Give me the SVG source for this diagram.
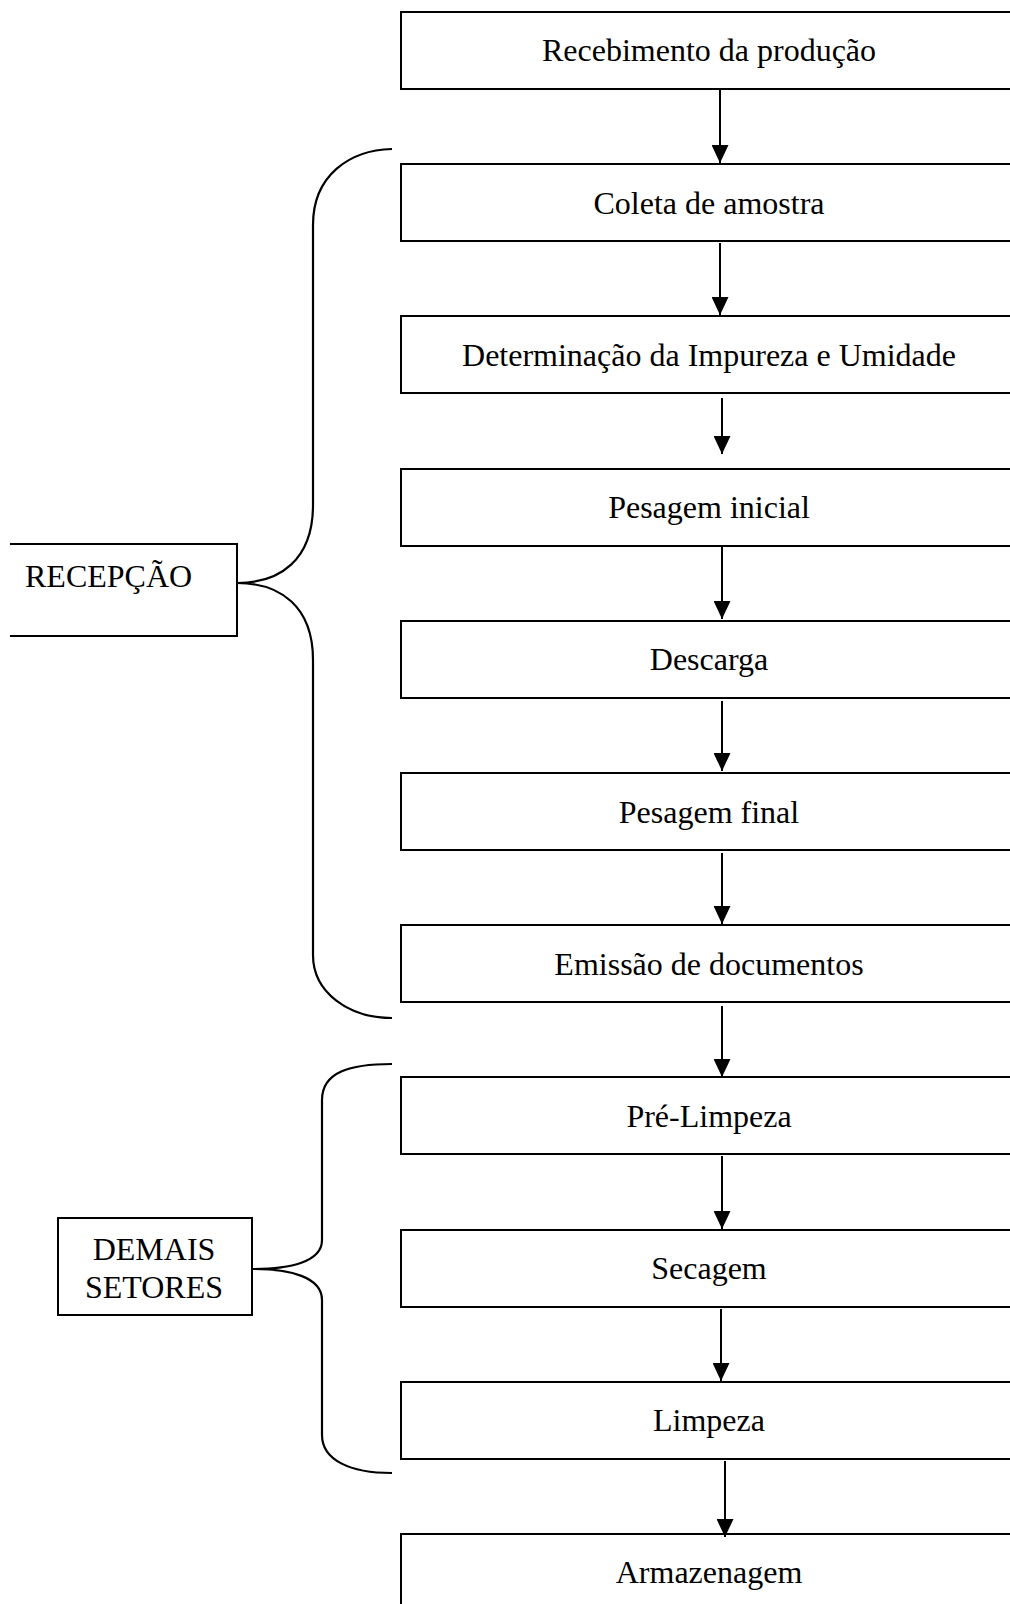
<svg xmlns="http://www.w3.org/2000/svg" width="1010" height="1604" viewBox="0 0 1010 1604">
<style>
.box{fill:#fff;stroke:#000;stroke-width:2}
.lbl{font-family:"Liberation Serif","Times New Roman",serif;font-size:32px;fill:#000}
.mid{text-anchor:middle}
.con{stroke:#000;stroke-width:2;fill:none}
.brace{stroke:#000;stroke-width:2.2;fill:none}
</style>
<defs>
<marker id="ah" markerUnits="userSpaceOnUse" markerWidth="18" markerHeight="17" refX="18" refY="8.5" orient="auto">
<path d="M0,0 L18,8.5 L0,17 Z" fill="#000"/>
</marker>
</defs>
<rect width="1010" height="1604" fill="#fff"/>
<g id="n1"><rect class="box" x="401" y="12" width="620" height="77"/><text class="lbl mid" x="709" y="61">Recebimento da produção</text></g>
<g id="n2"><rect class="box" x="401" y="164" width="620" height="77"/><text class="lbl mid" x="709" y="214">Coleta de amostra</text></g>
<g id="n3"><rect class="box" x="401" y="316" width="620" height="77"/><text class="lbl mid" x="709" y="366">Determinação da Impureza e Umidade</text></g>
<g id="n4"><rect class="box" x="401" y="469" width="620" height="77"/><text class="lbl mid" x="709" y="518">Pesagem inicial</text></g>
<g id="n5"><rect class="box" x="401" y="621" width="620" height="77"/><text class="lbl mid" x="709" y="670">Descarga</text></g>
<g id="n6"><rect class="box" x="401" y="773" width="620" height="77"/><text class="lbl mid" x="709" y="823">Pesagem final</text></g>
<g id="n7"><rect class="box" x="401" y="925" width="620" height="77"/><text class="lbl mid" x="709" y="975">Emissão de documentos</text></g>
<g id="n8"><rect class="box" x="401" y="1077" width="620" height="77"/><text class="lbl mid" x="709" y="1127">Pré-Limpeza</text></g>
<g id="n9"><rect class="box" x="401" y="1230" width="620" height="77"/><text class="lbl mid" x="709" y="1279">Secagem</text></g>
<g id="n10"><rect class="box" x="401" y="1382" width="620" height="77"/><text class="lbl mid" x="709" y="1431">Limpeza</text></g>
<g id="n11"><rect class="box" x="401" y="1534" width="620" height="77"/><text class="lbl mid" x="709" y="1583">Armazenagem</text></g>
<g id="recepcao"><path class="box" d="M10,544 L237,544 L237,636 L10,636" fill="none"/><text class="lbl" x="25" y="587">RECEPÇÃO</text></g>
<g id="demais"><rect class="box" x="58" y="1218" width="194" height="97"/><text class="lbl mid" x="154" y="1260">DEMAIS</text><text class="lbl mid" x="154" y="1298">SETORES</text></g>
<g id="connectors">
<line class="con" x1="720" y1="90" x2="720" y2="163" marker-end="url(#ah)"/>
<line class="con" x1="720" y1="243" x2="720" y2="315" marker-end="url(#ah)"/>
<line class="con" x1="722" y1="398" x2="722" y2="454" marker-end="url(#ah)"/>
<line class="con" x1="722" y1="547" x2="722" y2="619" marker-end="url(#ah)"/>
<line class="con" x1="722" y1="701" x2="722" y2="771" marker-end="url(#ah)"/>
<line class="con" x1="722" y1="853" x2="722" y2="924" marker-end="url(#ah)"/>
<line class="con" x1="722" y1="1006" x2="722" y2="1077" marker-end="url(#ah)"/>
<line class="con" x1="722" y1="1156" x2="722" y2="1229" marker-end="url(#ah)"/>
<line class="con" x1="721" y1="1309" x2="721" y2="1381" marker-end="url(#ah)"/>
<line class="con" x1="725" y1="1461" x2="725" y2="1537" marker-end="url(#ah)"/>
<path class="brace" d="M392,149 C350,150 313,175 313,225 L313,505 C313,560 280,583 237,583 C280,583 313,606 313,660 L313,955 C313,992 348,1018 392,1018"/>
<path class="brace" d="M392,1064 C350,1064 322,1072 322,1100 L322,1240 C322,1262 290,1269 253,1269 C290,1269 322,1277 322,1300 L322,1435 C322,1460 350,1473 392,1473"/>
</g>
</svg>
